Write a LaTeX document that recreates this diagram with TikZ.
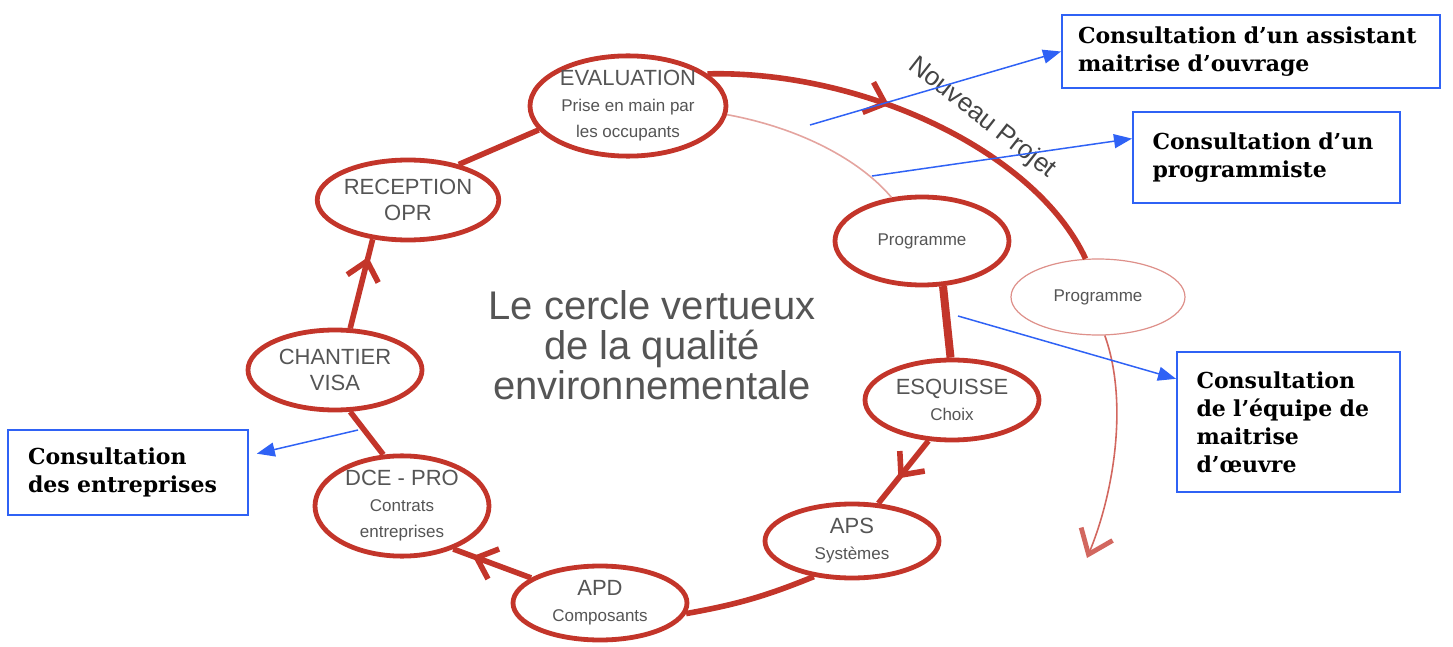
\documentclass[tikz,border=0pt]{standalone}
\usepackage{fontspec}
\setmainfont{DejaVu Serif}
\newfontfamily\handfont{Liberation Sans}
\usetikzlibrary{shapes.geometric, arrows.meta, positioning, calc, decorations.markings}
\definecolor{brushred}{HTML}{C3352A}
\definecolor{linkblue}{HTML}{2F62F5}
\definecolor{inkgray}{HTML}{555555}
\newcommand\phsub{\fontsize{8.5}{10}\selectfont}

\begin{document}
\begin{tikzpicture}[x=0.5pt, y=-0.5pt,
  phase/.style={ellipse, draw=brushred, line width=2.4pt, fill=white, minimum width=87pt, minimum height=40pt, inner sep=0pt, align=center, text=inkgray, font=\handfont\fontsize{11}{13}\selectfont},
  ghost/.style={phase, draw=brushred!55, line width=0.6pt},
  ring/.style={draw=brushred, line width=2.8pt},
  midarrow/.style={decoration={markings, mark=at position #1 with {\arrow{Straight Barb[length=9pt, width=16pt]}}}, postaction={decorate}},
  faint/.style={draw=brushred!45, line width=0.8pt},
  consult/.style={rectangle, draw=linkblue, line width=1pt, fill=white, align=left, font=\bfseries\fontsize{11}{14}\selectfont},
  link/.style={-{Triangle[length=9pt, width=7pt]}, draw=linkblue, line width=0.75pt}
]
  \useasboundingbox (0,0) rectangle (1453,647);

  % phases of the cycle
  \node[phase, minimum width=98pt] (evaluation) at (628,106) {EVALUATION\\\phsub Prise en main par\\\phsub les occupants};
  \node[phase] (reception) at (408,200) {RECEPTION\\OPR};
  \node[phase] (chantier) at (335,370) {CHANTIER\\VISA};
  \node[phase, minimum height=42pt] (dce) at (402,506) {DCE - PRO\\\phsub Contrats\\\phsub entreprises};
  \node[phase, minimum height=37pt] (apd) at (600,603) {APD\\\phsub Composants};
  \node[phase, minimum height=37pt] (aps) at (852,541) {APS\\\phsub Systèmes};
  \node[phase] (esquisse) at (952,400) {ESQUISSE\\\phsub Choix};
  \node[phase, minimum height=44pt] (programme) at (922,241) {\phsub Programme};
  \node[ghost, minimum height=38pt] (newprog) at (1098,297) {\phsub Programme};

  \node[text=inkgray, font=\handfont\fontsize{20}{20}\selectfont, align=center] (title) at (652,345) {Le cercle vertueux\\de la qualité\\environnementale};
  \node[text=inkgray!80!black, font=\handfont\fontsize{13}{15}\selectfont, rotate=-38] (newproject) at (982,118) {Nouveau Projet};

  % the ring
  \draw[ring] (reception.35) -- (evaluation.195);
  \draw[ring, midarrow=0.8] (chantier.70) -- (reception.228);
  \draw[ring] (dce.110) -- (chantier.290);
  \draw[ring, midarrow=0.75] (apd.160) -- (dce.320);
  \draw[ring] (aps.223) to[bend left=6] (apd.353);
  \draw[ring, midarrow=0.6] (esquisse.240) -- (aps.55);
  \draw[ring, line width=4pt] (programme.295) -- (esquisse.92);
  \draw[faint] (evaluation.-5) .. controls (800,128) and (860,160) .. (programme.125);

  % new project
  \draw[ring, midarrow=0.42] (evaluation.22) .. controls (860,70) and (1035,150) .. (newprog.108);
  \coordinate (projend) at (1087,558);
  \draw[draw=brushred!75, line width=0.8pt, -{Straight Barb[length=11pt, width=17pt, line width=2.4pt]}] (newprog.280) .. controls (1128,400) and (1115,490) .. (projend);

  % consultations
  \node[consult, text width=173pt, inner xsep=8pt, minimum height=36.5pt] (amo) at (1251,51.5) {Consultation d’un assistant\\maitrise d’ouvrage};
  \node[consult, text width=114pt, inner xsep=9.75pt, minimum height=45.5pt] (progr) at (1266.5,157.5) {Consultation d’un\\programmiste};
  \node[consult, text width=92pt, inner xsep=9.75pt, minimum height=70pt] (moe) at (1288.5,422) {Consultation\\de l’équipe de\\maitrise\\d’œuvre};
  \node[consult, text width=100pt, inner xsep=10pt, minimum height=42.5pt] (entr) at (128,472.5) {Consultation\\des entreprises};

  \coordinate (amostart) at (810,125);
  \coordinate (progrstart) at (872,176);
  \coordinate (moestart) at (958,316);
  \coordinate (entrstart) at (358,430);
  \draw[link] (amostart) -- (amo.west);
  \draw[link] (progrstart) -- (progr.172);
  \draw[link] (moestart) -- (moe.159);
  \draw[link, shorten >=4pt] (entrstart) -- (entr.8);
\end{tikzpicture}
\end{document}
